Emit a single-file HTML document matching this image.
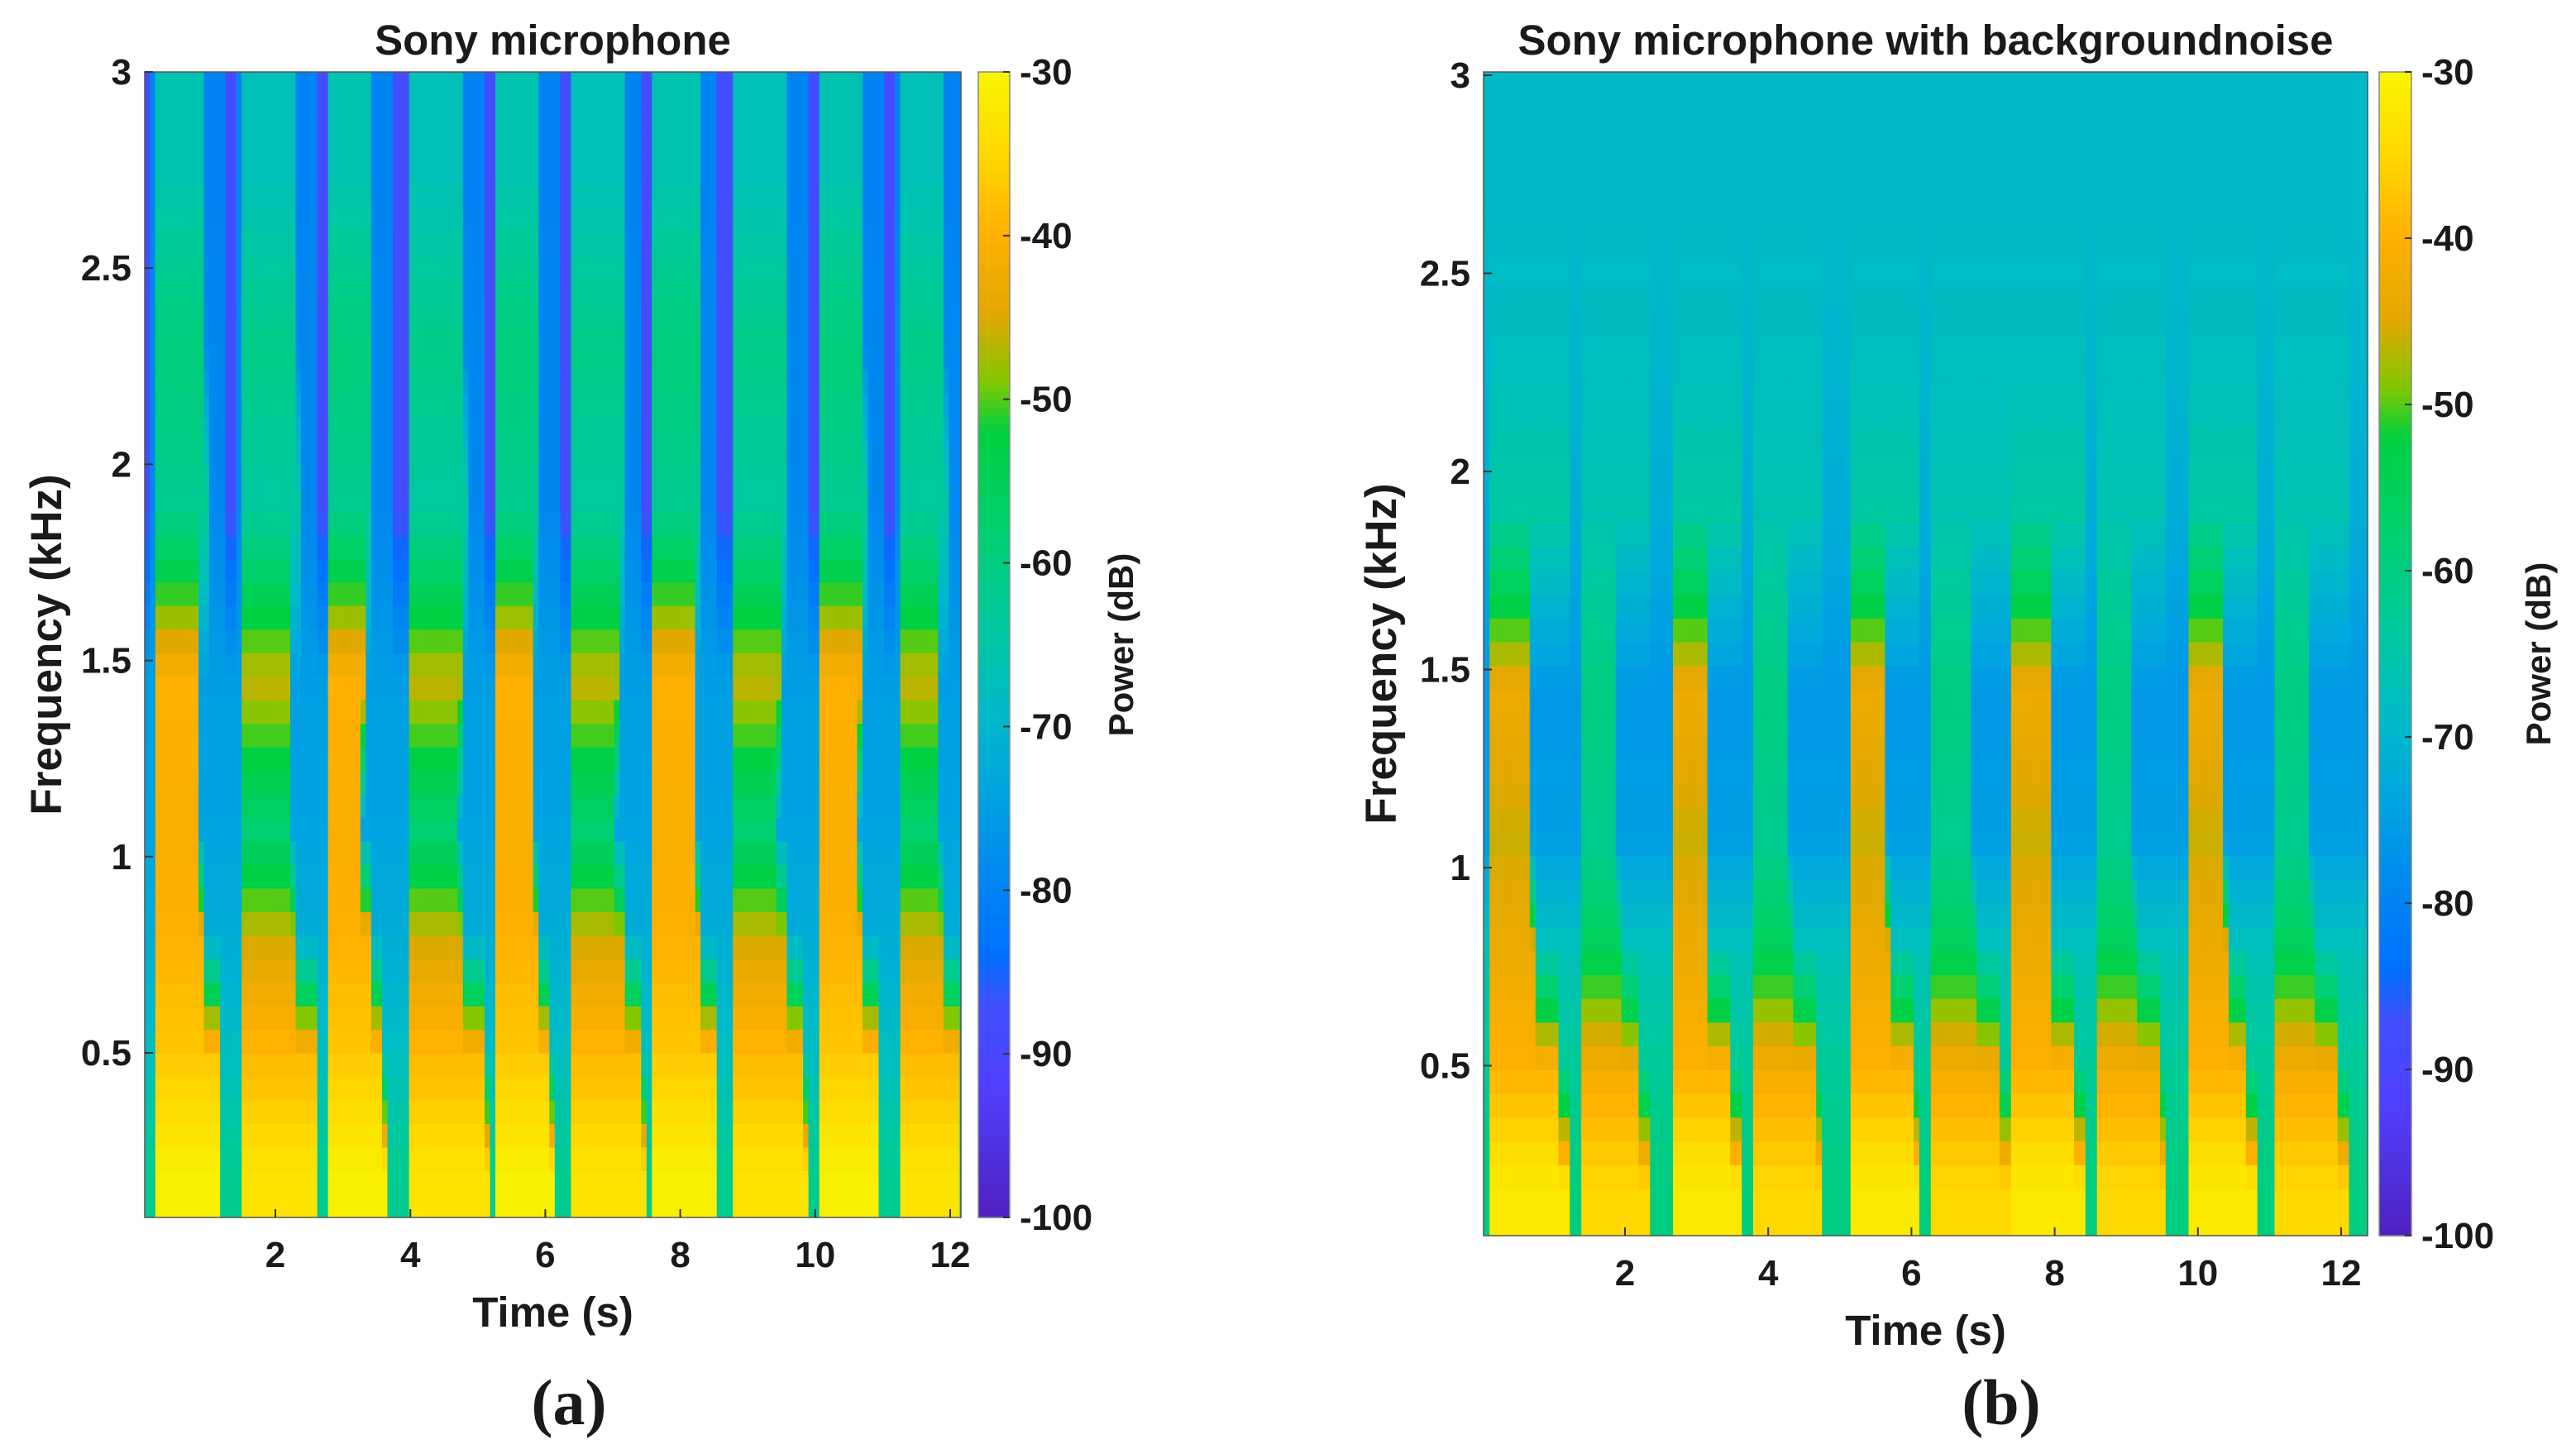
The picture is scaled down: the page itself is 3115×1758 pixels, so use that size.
<!DOCTYPE html>
<html><head><meta charset="utf-8"><style>
html,body{margin:0;padding:0;background:#fff;}
svg{display:block;}
text{font-family:"Liberation Sans",Arial,sans-serif;font-weight:bold;fill:#1a1a1a;}
.cap{font-family:"Liberation Serif",serif;font-weight:bold;}
</style></head><body>
<svg id="fig" width="3115" height="1758" viewBox="0 0 3115 1758" xmlns="http://www.w3.org/2000/svg"></svg>
<script>
// ---- data ----
const bandCenters = [0.2, 0.5, 0.8, 1.07, 1.45, 1.9, 2.3, 2.75]; // kHz
const colorTicks = [-30,-40,-50,-60,-70,-80,-90,-100];
const freqTicks = [0.5,1,1.5,2,2.5,3];
const freqTickLabels = ['0.5','1','1.5','2','2.5','3'];
const timeTicks = [2,4,6,8,10,12];

// panel a
const aStarts = [0.26,1.53,2.80,4.01,5.27,6.42,7.62,8.78,10.10,11.25];
const aEnds   = [1.22,2.64,3.63,5.16,6.14,7.47,8.56,9.88,10.97,12.18];
const aStrong = [1,0,1,0,1,0,1,0,1,0];
const aStrongLevels = [-31,-37,-40,-41,-40,-62,-59,-66];
const aWeakLevels   = [-33,-39,-46,-58,-46,-64,-61,-67];
const aBackground   = [-62,-68,-72,-74,-75,-79,-79,-80];
const aExtent       = [1.0,0.95,0.7,0.6,0.65,0.75,0.7,0.7];
const aStripes      = [0.08,1.35,2.72,3.85,5.2,6.3,7.5,8.65,10.0,11.1];
const aStripeLevel  = -88;

// panel b
const bStarts = [0.14,1.38,2.64,3.81,5.19,6.27,7.43,8.63,9.89,11.06];
const bEnds   = [1.22,2.37,3.63,4.78,6.15,7.41,8.44,9.59,10.85,12.10];
const bStrong = [1,0,1,0,1,0,1,0,1,0];
const bStrongLevels = [-32,-40,-43,-46,-43,-64,-68,-69];
const bWeakLevels   = [-35,-42,-55,-62,-60,-66,-68,-69];
const bBackground   = [-60,-63,-67,-75,-76,-72,-70,-69];
const bExtent       = [1.0,0.85,0.55,0.5,0.5,1,1,1];
const bStripes      = [];
const bStripeLevel  = -80;

// ---- colormap ----
const cmap = [[-100,[80,32,192]],[-92,[80,64,255]],[-87,[64,80,255]],[-84,[0,112,255]],[-79,[0,136,240]],[-74,[0,164,224]],[-69,[0,186,200]],[-64,[0,200,160]],[-58,[0,208,112]],[-52,[0,208,64]],[-49,[128,200,0]],[-45,[224,168,0]],[-40,[255,176,0]],[-35,[255,216,0]],[-30,[248,245,0]]];
function color(v){
  if(v<=cmap[0][0]) return 'rgb('+cmap[0][1]+')';
  for(let i=1;i<cmap.length;i++){ if(v<=cmap[i][0]){const [a,ca]=cmap[i-1],[b,cb]=cmap[i];const t=(v-a)/(b-a);
    return 'rgb('+ca.map((c,k)=>Math.round(c+(cb[k]-c)*t)).join(',')+')';}}
  return 'rgb('+cmap[cmap.length-1][1]+')';
}
const NS='http://www.w3.org/2000/svg';
const svg=document.getElementById('fig');
function mk(tag,attrs,parent){const e=document.createElementNS(NS,tag);for(const k in attrs)e.setAttribute(k,attrs[k]);(parent||svg).appendChild(e);return e;}
function txt(s,attrs,parent){const e=mk('text',attrs,parent);e.textContent=s;return e;}

function drawPanel(P){
  const g=mk('g',{});
  
  
  const xs=t=>P.x0+(t-2)*P.pxs;
  const ys=f=>P.y3+(3-f)*P.pxk;
  const hm=mk('g',{},g);
  
  
  const tStep=0.08, fStep=0.06;
  for(let t=P.tmin;t<P.tmax;t+=tStep){
    const tc=t+tStep/2;
    let bi=-1;
    for(let i=0;i<P.starts.length;i++) if(tc>=P.starts[i]&&tc<P.ends[i]) bi=i;
    const lv=bandCenters.map((fc,b)=>{
      if(bi>=0){const dur=P.ends[bi]-P.starts[bi];
        if(tc<P.starts[bi]+dur*P.extent[b]) return (P.strong[bi]?P.sl:P.wl)[b];}
      let v=P.bg[b];
      for(const s of P.stripes) if(Math.abs(tc-s)<0.1 && b>=5) v=P.stripeLevel;
      return v;
    });
    for(let f=P.fmin;f<3;f+=fStep){
      const fc=f+fStep/2;
      let v;
      if(fc<=bandCenters[0]) v=lv[0];
      else if(fc>=bandCenters[7]) v=lv[7];
      else{for(let b=0;b<7;b++) if(fc>=bandCenters[b]&&fc<bandCenters[b+1]){const r=(fc-bandCenters[b])/(bandCenters[b+1]-bandCenters[b]);v=lv[b]+(lv[b+1]-lv[b])*r;}}
      const x1=Math.max(xs(t),P.left),x2=Math.min(xs(t+tStep),P.right);
      const y1=Math.max(ys(f+fStep),P.top),y2=Math.min(ys(f),P.bottom);
      if(x2<=x1||y2<=y1) continue;
      const r=mk('rect',{x:x1.toFixed(1),y:y1.toFixed(1),width:(x2-x1+0.6).toFixed(1),height:(y2-y1+0.6).toFixed(1),fill:color(v)},hm);
      
      
    }
  }
  const box=mk('rect',{x:P.left,y:P.top,width:P.right-P.left,height:P.bottom-P.top,fill:'none',stroke:'#555','stroke-width':1.5},g);
  
  
  freqTicks.forEach((f,i)=>{
    const y=ys(f);
    mk('line',{x1:P.left,x2:P.left+10,y1:y,y2:y,stroke:'#333','stroke-width':2},g);
    const t=txt(freqTickLabels[i],{x:P.left-16,y:y+15,'font-size':44,'text-anchor':'end'},g);
    
    
  });
  timeTicks.forEach(tv=>{
    const x=xs(tv);
    mk('line',{x1:x,x2:x,y1:P.bottom,y2:P.bottom-10,stroke:'#333','stroke-width':2},g);
    const t=txt(String(tv),{x:x,y:P.bottom+60,'font-size':44,'text-anchor':'middle'},g);
    
    
  });
  const tt=txt(P.title,{x:(P.left+P.right)/2,y:66,'font-size':51,'text-anchor':'middle'},g);
  
  
  const xl=txt('Time (s)',{x:(P.left+P.right)/2,y:P.bottom+132,'font-size':51,'text-anchor':'middle'},g);
  
  
  const yl=txt('Frequency (kHz)',{x:0,y:0,'font-size':53,'text-anchor':'middle',transform:'translate('+P.ylx+','+((P.top+P.bottom)/2)+') rotate(-90)'},g);
  
  
  const cb=mk('g',{},g);
  
  
  const n=140,h=(P.bottom-P.top)/n;
  for(let i=0;i<n;i++){const v=-30-70*(i+0.5)/n;
    mk('rect',{x:P.cbx,y:(P.top+i*h).toFixed(1),width:P.cbw,height:(h+0.8).toFixed(1),fill:color(v)},cb);}
  mk('rect',{x:P.cbx,y:P.top,width:P.cbw,height:P.bottom-P.top,fill:'none',stroke:'#888','stroke-width':1.5},cb);
  colorTicks.forEach(v=>{
    const y=P.top+(-30-v)/70*(P.bottom-P.top);
    mk('line',{x1:P.cbx+P.cbw-8,x2:P.cbx+P.cbw,y1:y,y2:y,stroke:'#333','stroke-width':2},cb);
    const t=txt(String(v),{x:P.cbx+P.cbw+12,y:y+15,'font-size':44},cb);
    
    
  });
  const cl=txt('Power (dB)',{x:0,y:0,'font-size':42,'text-anchor':'middle',transform:'translate('+P.clx+','+((P.top+P.bottom)/2)+') rotate(-90)'},g);
  
  
  const cap=txt(P.cap,{x:P.capx,y:1722,'font-size':78,'text-anchor':'middle','class':'cap'},g);
  
  
}

drawPanel({id:'panel-a',title:'Sony microphone',cap:'(a)',capx:688,
  left:175,right:1162,top:87,bottom:1472,x0:333,pxs:81.6,y3:87,pxk:474.4,tmin:0.06,tmax:12.28,fmin:0.08,
  starts:aStarts,ends:aEnds,strong:aStrong,sl:aStrongLevels,wl:aWeakLevels,bg:aBackground,extent:aExtent,stripes:aStripes,stripeLevel:aStripeLevel,
  ylx:74,cbx:1183,cbw:38,clx:1370});
drawPanel({id:'panel-b',title:'Sony microphone with backgroundnoise',cap:'(b)',capx:2420,
  left:1794,right:2863,top:87,bottom:1494,x0:1965,pxs:86.6,y3:91,pxk:479,tmin:0.03,tmax:12.37,fmin:0.07,
  starts:bStarts,ends:bEnds,strong:bStrong,sl:bStrongLevels,wl:bWeakLevels,bg:bBackground,extent:bExtent,stripes:bStripes,stripeLevel:bStripeLevel,
  ylx:1688,cbx:2877,cbw:39,clx:3084});
</script>
</body></html>
